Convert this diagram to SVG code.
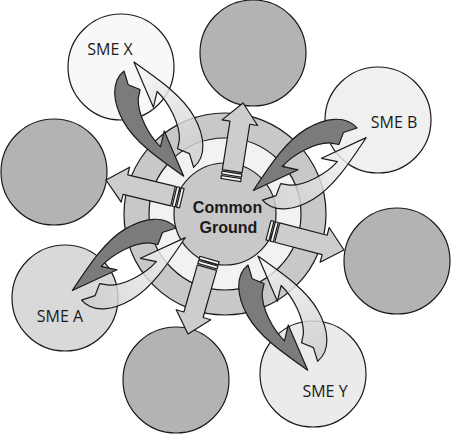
<svg xmlns="http://www.w3.org/2000/svg" xmlns:xlink="http://www.w3.org/1999/xlink" width="451" height="434" viewBox="0 0 451 434">
<defs>
<style>
.ol{stroke:#1a1a1a;stroke-width:1.2;stroke-linejoin:round}
.gray{fill:#b3b3b3}
.lbl{font-family:"Open Sans","Liberation Sans",sans-serif;font-size:16px;fill:#1a1a1a;text-anchor:middle}
.hubt{font-family:"Liberation Sans","Open Sans",sans-serif;font-size:16px;font-weight:bold;text-anchor:middle;fill:#1a1a1a}
</style>
<linearGradient id="lg" x1="0" y1="0" x2="1" y2="0">
<stop offset="0" stop-color="#cbcbcb"/>
<stop offset="1" stop-color="#f8f8f8"/>
</linearGradient>
<path id="cw" stroke="#1a1a1a" stroke-width="1.2" stroke-linejoin="round" d="M0,0 C3,17 22,25 44,25 C68,25 94,12 121,-1 L72,-6 L84,5 C68,10 44,9 31,1 L24,-5 L14,3 Z"/>
<g id="sarrow" stroke="#1a1a1a" stroke-width="1.2" stroke-linejoin="round">
<path fill="#cdcdcd" d="M9,-10 L58,-10 L58,-18 L78,0 L58,18 L58,10 L9,10 Z"/>
<rect fill="#f5f5f5" x="0" y="-10" width="3" height="20"/>
<rect fill="#f5f5f5" x="4.5" y="-10" width="3" height="20"/>
</g>
<g id="pair">
<use xlink:href="#cw" href="#cw" fill="#7b7b7b"/>
<use xlink:href="#cw" href="#cw" fill="url(#lg)" fill-opacity="0.82" transform="rotate(180 59 -7)"/>
</g>
</defs>
<rect width="451" height="434" fill="#ffffff"/>
<g id="smeX"><circle class="ol" cx="121" cy="67" r="53" fill="#f8f8f8"/><text class="lbl" x="110" y="55">SME X</text></g>
<g id="top"><circle class="ol gray" cx="253" cy="53" r="53"/></g>
<g id="smeB"><circle class="ol" cx="378" cy="120" r="53" fill="#f0f0f0"/><text class="lbl" x="394" y="128">SME B</text></g>
<g id="left"><circle class="ol gray" cx="54" cy="172" r="53"/></g>
<g id="right"><circle class="ol gray" cx="397" cy="261" r="53"/></g>
<g id="smeA"><circle class="ol" cx="65" cy="298" r="53" fill="#d9d9d9"/><text class="lbl" x="60" y="322">SME A</text></g>
<g id="bottom"><circle class="ol gray" cx="176" cy="380" r="53"/></g>
<g id="smeY"><circle class="ol" cx="313" cy="374" r="53" fill="#ebebeb"/><text class="lbl" x="325" y="397">SME Y</text></g>
<g id="hub">
<circle class="ol" cx="225" cy="214" r="101" fill="#c8c8c8"/>
<circle class="ol" cx="225" cy="214" r="76" fill="#f2f2f2"/>
<circle class="ol" cx="225" cy="214" r="51" fill="#c8c8c8"/>
<text class="hubt" x="227.5" y="213">Common</text>
<text class="hubt" x="228.5" y="232.5">Ground</text>
</g>
<g id="connectors">
<use xlink:href="#sarrow" href="#sarrow" transform="translate(230.8,180) rotate(-81)"/>
<use xlink:href="#sarrow" href="#sarrow" transform="translate(181.8,198.2) rotate(193.5)"/>
<use xlink:href="#sarrow" href="#sarrow" transform="translate(268.5,230.3) rotate(14.6)"/>
<use xlink:href="#sarrow" href="#sarrow" transform="translate(209.5,259) rotate(106)"/>
<use xlink:href="#pair" href="#pair" transform="translate(124,71) rotate(60.9)"/>
<use xlink:href="#pair" href="#pair" transform="translate(248,265) rotate(60.9)"/>
<use xlink:href="#pair" href="#pair" transform="translate(357,128) rotate(149.4)"/>
<use xlink:href="#pair" href="#pair" transform="translate(176,228) rotate(149.4)"/>
</g>
</svg>
